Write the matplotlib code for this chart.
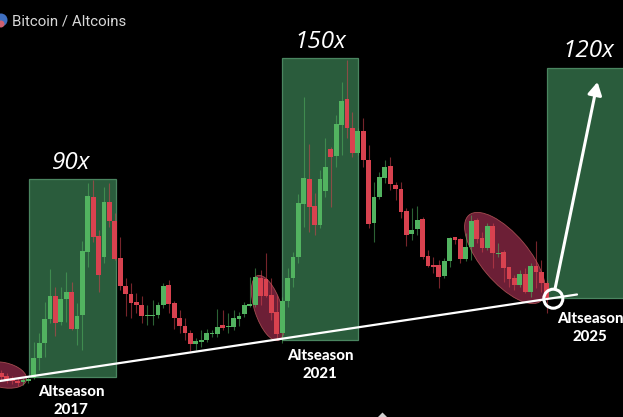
#!/usr/bin/env python3
import numpy as np
import matplotlib
matplotlib.use("Agg")
import matplotlib.pyplot as plt
from matplotlib.patches import Ellipse, Rectangle, Circle, Polygon

# candles (chart height, 0 at top of image)
body_top = [373, 376, 378, 381, 380, 379,
            358, 343, 319, 296, 296, 299, 292, 292, 316, 251, 196, 197, 236, 202, 202, 221, 258, 286, 294, 302, 305, 315, 315, 305, 286, 285, 303, 318, 326, 333, 341,
            340, 333, 333, 327, 325, 326, 318, 316, 305, 304, 277, 278, 279, 295, 312, 301, 278, 257, 203, 178, 179, 206, 179, 167, 149, 124, 101, 99, 128, 131, 131, 160, 197, 177, 167, 166,
            185, 189, 211, 230, 220, 219, 256, 265, 265, 261, 238, 237, 239, 247, 221, 220, 238, 226, 226, 253, 252, 267, 278, 274, 274, 266, 266, 272, 283]
body_bot = [377, 380, 381, 383, 382, 381,
            378, 358, 343, 319, 323, 322, 299, 329, 329, 315, 252, 237, 275, 257, 221, 259, 286, 294, 303, 305, 316, 316, 316, 315, 305, 304, 318, 326, 333, 344, 344,
            342, 340, 334, 334, 328, 327, 327, 319, 314, 306, 305, 296, 296, 313, 334, 333, 301, 278, 257, 204, 207, 225, 225, 191, 157, 156, 125, 128, 153, 153, 160, 224, 223, 197, 178, 184,
            189, 212, 235, 234, 229, 257, 266, 267, 277, 276, 261, 240, 259, 259, 247, 239, 248, 248, 253, 254, 268, 279, 285, 285, 292, 292, 272, 283, 298]
wick_top = [370, 373, 376, 378, 378, 377,
            342, 333, 302, 269, 287, 287, 272, 282, 303, 241, 183, 180, 230, 187, 183, 213, 237, 278, 283, 293, 296, 305, 300, 302, 283, 280, 301, 310, 318, 330, 338,
            330, 329, 330, 309, 310, 313, 310, 312, 302, 277, 268, 270, 253, 278, 295, 297, 268, 252, 194, 97, 144, 193, 170, 138, 147, 115, 82, 60, 112, 128, 118, 145, 182, 172, 160, 157,
            182, 182, 208, 208, 206, 217, 250, 257, 260, 258, 237, 237, 238, 233, 215, 218, 232, 223, 223, 243, 250, 267, 275, 270, 268, 263, 241, 260, 280]
wick_bot = [380, 383, 384, 386, 385, 383,
            379, 370, 357, 323, 336, 325, 322, 330, 345, 350, 267, 242, 292, 263, 227, 260, 290, 316, 318, 313, 323, 325, 325, 318, 308, 313, 329, 333, 340, 351, 350,
            347, 342, 337, 337, 330, 333, 330, 326, 317, 307, 307, 305, 297, 320, 340, 343, 307, 287, 263, 227, 232, 235, 228, 197, 207, 167, 155, 138, 157, 155, 167, 228, 242, 199, 183, 190,
            200, 218, 246, 240, 235, 259, 267, 273, 288, 278, 267, 244, 263, 261, 260, 243, 252, 250, 268, 257, 282, 287, 290, 287, 293, 297, 288, 292, 313]
is_green = [0, 0, 0, 0, 1, 1,
            1, 1, 1, 1, 0, 1, 1, 0, 1, 1, 1, 0, 0, 1, 0, 0, 0, 0, 0, 0, 0, 1, 1, 1, 1, 0, 0, 0, 0, 0, 1,
            1, 1, 1, 1, 0, 1, 1, 1, 1, 1, 1, 0, 0, 0, 0, 1, 1, 1, 1, 1, 0, 0, 1, 1, 0, 1, 1, 0, 0, 1, 0, 0, 1, 1, 1, 0,
            0, 0, 0, 1, 1, 0, 0, 0, 0, 1, 1, 0, 0, 1, 1, 0, 0, 1, 0, 1, 0, 0, 0, 1, 0, 1, 0, 0, 0]

labels_season = ["Altseason\n2017", "Altseason\n2021", "Altseason\n2025"]
labels_mult = ["90x", "150x", "120x"]

GREEN = "#52b360"
RED = "#d8424f"

fig = plt.figure(figsize=(6.23, 4.17), dpi=100, facecolor="black")
ax = fig.add_axes([0, 0, 1, 1])
ax.set_xlim(0, 623)
ax.set_ylim(417, 0)
ax.axis("off")

# green altseason boxes go behind everything
for x0, y0, w, h in [(28.7, 179, 87, 198), (282.3, 58, 75.4, 282), (546.7, 68, 80, 230)]:
    ax.add_patch(Rectangle((x0, y0), w, h, fc="#2a5c3c", ec="#4a8560", lw=0.9, zorder=1))

# red ellipses on the falling stretches
for c, w, h, ang in [((3, 375), 48, 25, 12), ((268, 308), 68, 27, 72), ((505, 258), 112, 48, 50)]:
    ax.add_patch(Ellipse(c, w, h, angle=ang, fc="#6c1f36", ec="#a34c50", lw=0.6, zorder=2))

# candles
xs = 1.3 + 5.4 * np.arange(len(body_top))
top = np.array(body_top, dtype=float)
bot = np.array(body_bot, dtype=float)
cols = [GREEN if g else RED for g in is_green]
ax.vlines(xs, wick_top, wick_bot, colors=cols, lw=0.8, alpha=0.55, zorder=3)
ax.bar(xs, bot - top, bottom=top, width=4.8, color=cols, lw=0, zorder=4)

# trend line, circle and arrow
ax.plot([0, 577], [381, 294.5], color="white", lw=1.6, zorder=5, solid_capstyle="round")
ax.add_patch(Circle((553.3, 298.7), 9.5, fc="none", ec="white", lw=2.2, zorder=6))
ax.annotate("", xy=(597.5, 82), xytext=(555, 289), zorder=6,
            arrowprops=dict(arrowstyle="-|>,head_width=0.42,head_length=0.75", color="white", lw=2.2,
                            shrinkA=0, shrinkB=0))

# text
for x, y, s in zip([71, 320, 588], [163, 42, 51], labels_mult):
    ax.text(x, y, s, color="white", fontsize=17.5, style="italic", family="Open Sans",
            ha="center", va="center", zorder=7)
for x, y, s in zip([71, 320, 590], [401, 365, 328], labels_season):
    ax.text(x, y, s, color="white", fontsize=10.8, fontweight="black", family="Lato",
            ha="center", va="center", linespacing=1.32, zorder=7)
ax.text(12, 21, "Bitcoin / Altcoins", color="#d8d8d8", fontsize=10.8, family="Roboto",
        ha="left", va="center", zorder=7)

# little logo cut off on the left edge
ax.add_patch(Circle((1, 20), 6.5, fc="#3f6fc0", ec="none", zorder=7))
ax.add_patch(Circle((1, 24), 3.5, fc="#d06070", ec="none", zorder=8))

# tip of something cut off at the bottom edge
ax.add_patch(Polygon([(378, 417), (382.5, 412.5), (387, 417)], fc="#cfcfcf", ec="none", zorder=7))

fig.savefig("out.png", dpi=100, facecolor="black")
